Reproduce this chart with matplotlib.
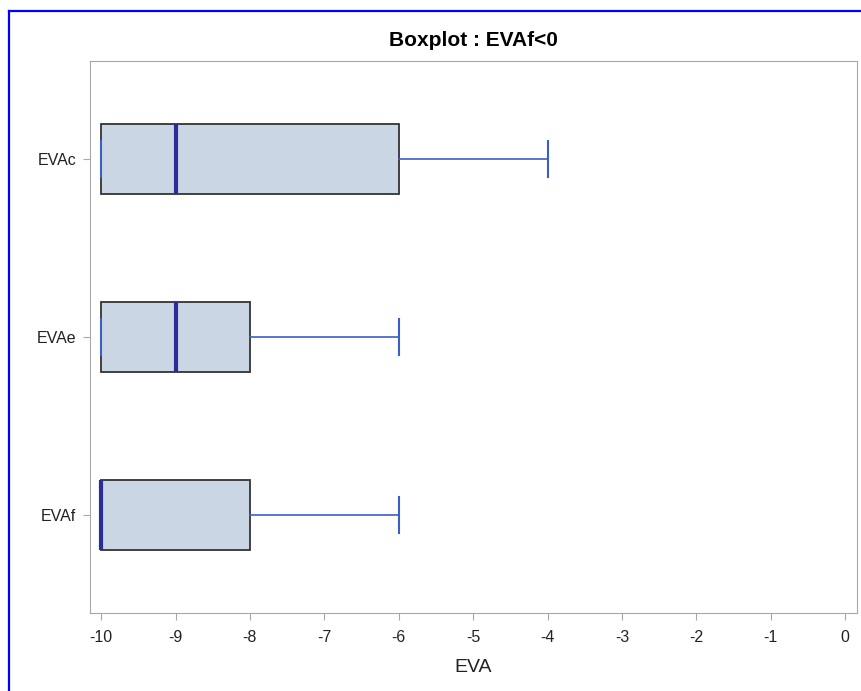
import matplotlib.pyplot as plt
from matplotlib.lines import Line2D

plt.rcParams['font.family'] = ['Liberation Sans', 'DejaVu Sans']
plt.rcParams['axes.unicode_minus'] = False

# bottom to top
labels = ['EVAf', 'EVAe', 'EVAc']
mins = [-10, -10, -10]
q1s = [-10, -10, -10]
medians = [-10, -9, -9]
q3s = [-8, -8, -6]
maxs = [-6, -6, -4]

stats = []
for lab, lo, a, m, b, hi in zip(labels, mins, q1s, medians, q3s, maxs):
    stats.append({'label': lab, 'whislo': lo, 'q1': a, 'med': m,
                  'q3': b, 'whishi': hi, 'fliers': []})

fig = plt.figure(figsize=(8.61, 6.91), dpi=100)
ax = fig.add_axes([0.1045, 0.1129, 0.8909, 0.7988])

ax.bxp(stats, positions=range(len(labels)), orientation='horizontal',
       widths=0.39, capwidths=0.2, patch_artist=True,
       boxprops=dict(facecolor='#cbd6e5', edgecolor='#333333', linewidth=1.3),
       medianprops=dict(color='#2b2b9a', linewidth=3),
       whiskerprops=dict(color='#3a5fc8', linewidth=1.2),
       capprops=dict(color='#3a5fc8', linewidth=1.5))

ax.set_xlim(-10.15, 0.16)
ax.set_ylim(-0.55, 2.55)
ax.set_xticks(range(-10, 1))
ax.set_yticks(range(len(labels)))
ax.set_yticklabels(labels)

for s in ax.spines.values():
    s.set_color('#a8a8a8')
ax.tick_params(axis='both', colors='#a8a8a8', labelcolor='#222222',
               labelsize=11.5, length=5, pad=5)
ax.tick_params(axis='x', pad=7)
ax.set_xlabel('EVA', fontsize=14, color='#222222', labelpad=10)
ax.set_title('Boxplot : EVAf<0', fontsize=15, fontweight='bold', pad=11)

# blue frame at top and left of the image
fig.add_artist(Line2D([0.0105, 1.0], [0.984, 0.984], color='#0000ff',
                      linewidth=1.6, transform=fig.transFigure))
fig.add_artist(Line2D([0.0105, 0.0105], [0.0, 0.984], color='#0000ff',
                      linewidth=1.6, transform=fig.transFigure))

fig.savefig('out.png', dpi=100)
